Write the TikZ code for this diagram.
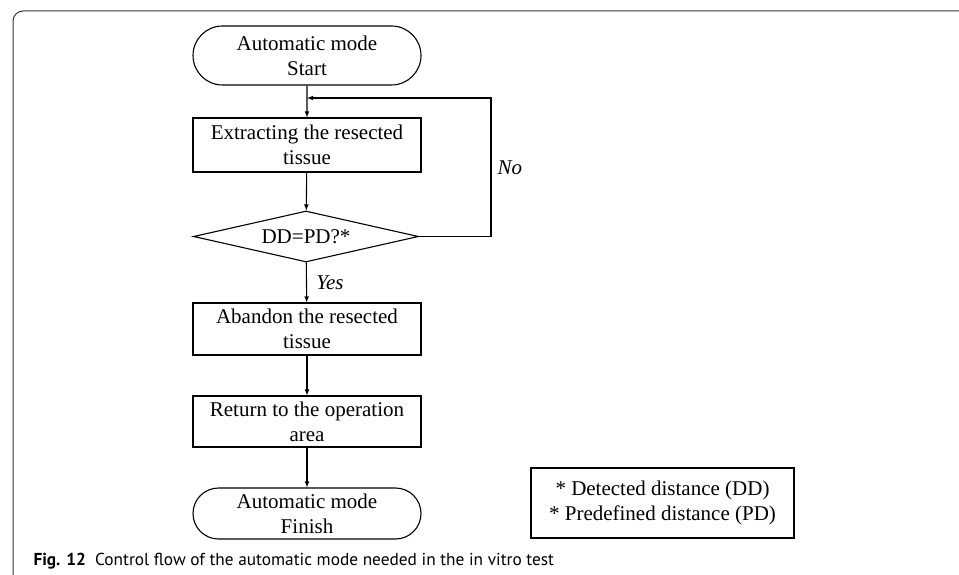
\documentclass[tikz,border=0pt]{standalone}
\usepackage{fontspec}
\setmainfont{Liberation Serif}
\newfontfamily\capfont{PT Sans}
\usetikzlibrary{shapes.geometric,shapes.misc}

\begin{document}
\begin{tikzpicture}[x=1pt,y=-1pt]
        \tikzstyle{every node}=[font=\fontsize{21}{25}\selectfont, text=black]
        \tikzstyle{box}=[rectangle, draw=black, line width=1.1pt, inner sep=0pt, minimum width=228pt, align=center]
        \tikzstyle{term}=[rounded rectangle, draw=black, line width=1.1pt, inner sep=0pt, minimum width=228pt, align=center]
        \tikzstyle{cond}=[diamond, aspect=4.4, draw=black, line width=1.1pt, inner sep=0pt, minimum width=225pt, minimum height=51pt]
        \tikzstyle{edge}=[black, line width=1.1pt, -latex]
        \useasboundingbox (0,0) rectangle (959,575);

        % outer frame
        \draw[black!80, line width=1pt, rounded corners=10pt] (13,575) -- (13,11) -- (959,11);

        \node[term, minimum height=59pt] (start) at (307,55.5)  {Automatic mode\\Start};
        \node[box,  minimum height=54pt] (ext)   at (307,145)   {Extracting the resected\\tissue};
        \node[cond]                      (dd)    at (306,236.5) {DD=PD?*};
        \node[box,  minimum height=52pt] (ab)    at (307,329)   {Abandon the resected\\tissue};
        \node[box,  minimum height=51pt] (ret)   at (307,421.5) {Return to the operation\\area};
        \node[term, minimum height=51pt] (fin)   at (307,513.5) {Automatic mode\\Finish};

        \node[box, minimum width=263pt, minimum height=70pt] (note) at (662.5,503)
            {* Detected distance (DD)\\* Predefined distance (PD)};

        \coordinate (loop) at (307,98);
        \coordinate (nr) at (491,236.5);
        \coordinate (nt) at (491,98);

        \draw[edge] (start) -- (ext);
        \draw[edge] (ext) -- (dd);
        \draw[edge] (dd) -- node[right, xshift=6pt] {\textit{Yes}} (ab);
        \draw[edge] (ab) -- (ret);
        \draw[edge] (ret) -- (fin);
        \draw[edge] (dd.east) -- (nr) -- (nt) -- (loop);
        \node[right] (no) at (494,168) {\textit{No}};

        \node[anchor=base west, font=\capfont\fontsize{17.3}{20}\selectfont] (cap) at (30,565)
            {\textbf{Fig. 12}\ \ Control flow of the automatic mode needed in the in vitro test};
    \end{tikzpicture}
\end{document}
